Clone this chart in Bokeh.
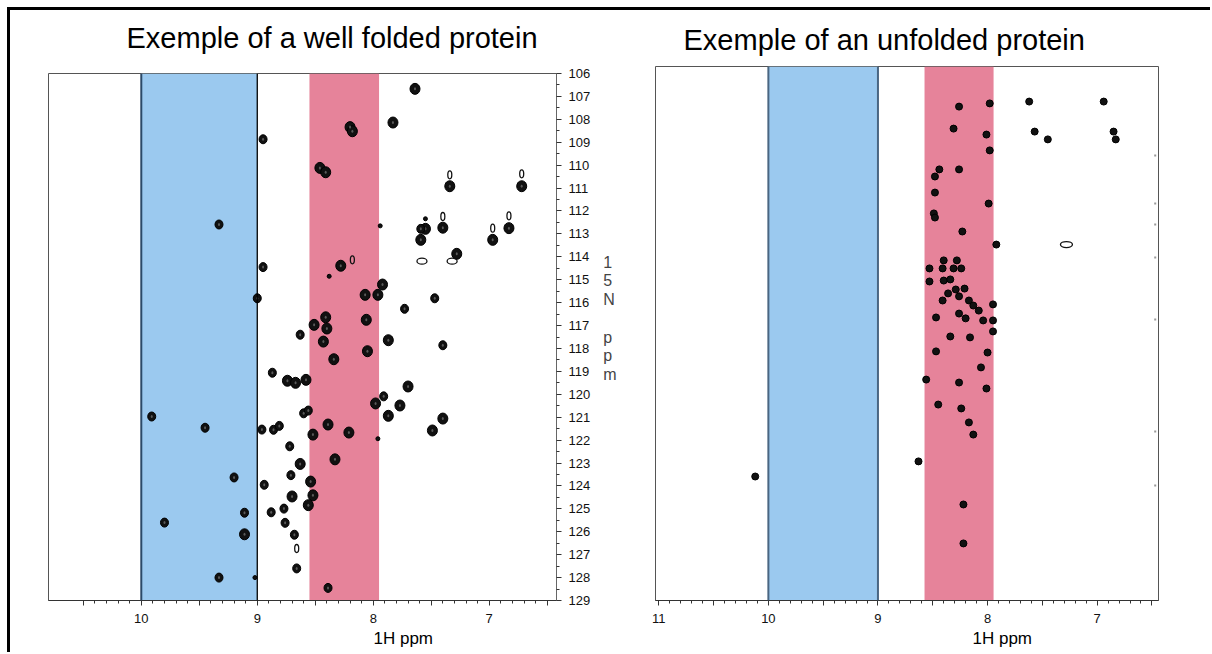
from bokeh.plotting import figure
from bokeh.models import Range1d, FixedTicker, Span, Title
from bokeh.layouts import row, column
from bokeh.embed import file_html
from bokeh.resources import INLINE

# ---------------- data ----------------
titles = ["Exemple of a well folded protein", "Exemple of an unfolded protein"]
x_label = "1H ppm"
y_label = "15N ppm"

folded_h_ticks = [10, 9, 8, 7]
unfolded_h_ticks = [11, 10, 9, 8, 7]
n_ticks = [106, 107, 108, 109, 110, 111, 112, 113, 114, 115, 116, 117,
           118, 119, 120, 121, 122, 123, 124, 125, 126, 127, 128, 129]

blue_band = [10.0, 9.0]
pink_band_folded = [8.55, 7.95]
pink_band_unfolded = [8.575, 7.945]

# well folded protein: 1H ppm, 15N ppm, contour level (3 strong, 2 medium,
# 1 weak open contour, 0 very weak, 4 broad weak)
folded_h = [7.64, 8.20, 8.18, 7.83, 8.95, 8.46, 8.41, 7.34, 7.34, 6.72,
            6.72, 9.33, 7.94, 7.55, 7.55, 7.59, 7.40, 7.40, 6.97, 6.97,
            6.83, 6.83, 7.59, 8.95, 8.28, 8.18, 8.38, 7.58, 7.32, 7.28,
            7.92, 7.96, 8.07, 7.47, 9.00, 7.73, 8.41, 8.51, 8.40, 8.06,
            8.63, 8.43, 7.87, 7.40, 8.05, 8.34, 8.87, 8.74, 8.67, 8.58,
            7.70, 7.91, 7.98, 7.77, 7.87, 7.40, 8.60, 8.56, 9.45, 8.96,
            8.86, 8.81, 8.39, 8.52, 8.21, 7.49, 7.96, 9.91, 8.72, 8.33,
            8.63, 9.20, 8.71, 8.94, 8.54, 8.52, 8.70, 8.56, 9.11, 8.88,
            8.77, 8.76, 9.11, 8.68, 8.66, 8.66, 9.33, 9.02, 8.39, 9.80]
folded_n = [106.67, 108.34, 108.52, 108.14, 108.87, 110.12, 110.31, 110.42, 110.92, 110.38,
            110.92, 112.59, 112.65, 112.34, 112.78, 112.78, 112.24, 112.73, 112.75, 113.26,
            112.21, 112.75, 113.26, 114.45, 114.39, 114.13, 114.85, 114.19, 114.19, 113.87,
            115.21, 115.66, 115.66, 115.81, 115.81, 116.27, 116.64, 116.97, 117.13, 116.75,
            117.40, 117.70, 117.64, 117.86, 118.12, 118.47, 119.06, 119.41, 119.50, 119.37,
            119.66, 120.09, 120.40, 120.49, 120.94, 121.06, 120.83, 120.71, 121.46, 121.54,
            121.55, 121.38, 121.32, 121.76, 121.67, 121.58, 121.94, 120.97, 122.27, 122.84,
            123.04, 123.63, 123.53, 123.95, 123.81, 124.41, 124.46, 124.84, 125.17, 125.15,
            124.99, 125.61, 126.11, 126.13, 126.73, 127.60, 128.00, 128.00, 128.45, 125.60]
folded_level = [3, 3, 3, 3, 2, 3, 3, 1, 3, 1,
                3, 2, 0, 0, 3, 2, 1, 3, 1, 3,
                1, 3, 3, 2, 3, 1, 0, 4, 4, 3,
                3, 3, 3, 2, 2, 2, 3, 3, 3, 3,
                2, 3, 3, 2, 3, 3, 2, 3, 3, 3,
                3, 2, 3, 3, 3, 3, 2, 2, 2, 2,
                2, 2, 3, 3, 3, 3, 0, 2, 2, 3,
                3, 2, 2, 2, 3, 3, 3, 3, 2, 2,
                2, 2, 3, 2, 1, 2, 2, 0, 2, 2]

# unfolded protein
unfolded_h = [7.62, 6.94, 7.98, 8.26, 7.57, 7.45, 6.85, 6.83, 8.31, 8.01,
              7.98, 8.44, 8.26, 8.48, 8.48, 7.99, 8.49, 8.48, 8.23, 7.92,
              7.28, 8.40, 8.28, 8.53, 8.41, 8.31, 8.24, 8.53, 8.40, 8.34,
              8.29, 8.21, 8.36, 8.26, 8.41, 8.17, 8.13, 7.95, 8.08, 8.47,
              8.26, 8.20, 8.04, 7.95, 7.95, 8.16, 8.34, 8.47, 8.00, 8.06,
              8.56, 8.26, 8.01, 8.45, 8.24, 8.17, 8.13, 8.63, 10.12, 8.22,
              8.22]
unfolded_n = [107.23, 107.23, 107.31, 107.45, 108.54, 108.88, 108.54, 108.88, 108.41, 108.67,
              109.36, 110.19, 110.19, 110.50, 111.20, 111.68, 112.11, 112.29, 112.90, 113.47,
              113.47, 114.16, 114.16, 114.51, 114.51, 114.51, 114.51, 115.08, 115.04, 114.99,
              115.43, 115.39, 115.60, 115.73, 115.91, 115.91, 116.13, 116.08, 116.35, 116.65,
              116.48, 116.69, 116.78, 116.78, 117.26, 117.52, 117.48, 118.13, 118.18, 118.83,
              119.36, 119.49, 119.75, 120.45, 120.62, 121.23, 121.76, 122.93, 123.59, 124.81,
              126.51]
unfolded_level = [2] * 20 + [4] + [2] * 40

edge_h = [6.47, 6.47, 6.47, 6.47, 6.47, 6.47, 6.47]
edge_n = [109.58, 111.68, 112.59, 114.03, 116.74, 121.63, 123.98]

# ---------------- style ----------------
FONT = "Liberation Sans"
BLUE = "#9BC9EF"
PINK = "#E6839A"

SHAPES_FOLDED = {
    3: dict(w=10, h=11, open=False, core="#5a5a5a"),
    2: dict(w=8, h=9, open=False, core="#5a5a5a"),
    1: dict(w=4, h=8, open=True),
    0: dict(w=4, h=4, open=False, core=None),
    4: dict(w=10, h=6, open=True),
}
SHAPES_UNFOLDED = {
    2: dict(w=7, h=7, open=False, core=None),
    4: dict(w=12, h=6, open=True),
}


def draw_peaks(p, hs, ns, levels, shapes):
    for lvl, st in shapes.items():
        xs = [h for h, l in zip(hs, levels) if l == lvl]
        ys = [n for n, l in zip(ns, levels) if l == lvl]
        if not xs:
            continue
        if st["open"]:
            p.ellipse(x=xs, y=ys, width=st["w"], height=st["h"],
                      width_units="screen", height_units="screen",
                      fill_color=None, line_color="#111111", line_width=1.3)
        else:
            p.ellipse(x=xs, y=ys, width=st["w"], height=st["h"],
                      width_units="screen", height_units="screen",
                      fill_color="#111111", line_color="#000000", line_width=1)
            if st.get("core"):
                p.ellipse(x=xs, y=ys, width=2, height=3,
                          width_units="screen", height_units="screen",
                          fill_color=st["core"], line_color=None)


def style_axis(ax):
    ax.major_tick_out = 5
    ax.major_tick_in = 0
    ax.minor_tick_out = 3
    ax.minor_tick_in = 0
    ax.axis_line_color = "#333333"
    ax.major_tick_line_color = "#333333"
    ax.minor_tick_line_color = "#333333"
    ax.major_label_text_font = FONT
    ax.major_label_text_font_size = "13px"
    ax.major_label_text_color = "#111111"


def x_ticker(ax, int_ticks, lo, hi):
    majors = []
    labels = {}
    v = lo
    while v <= hi + 1e-9:
        t = round(v, 1)
        majors.append(t)
        labels[t] = str(int(t)) if t in int_ticks else ""
        v += 0.5
    minors = []
    v = lo
    while v <= hi + 1e-9:
        minors.append(round(v, 1))
        v += 0.1
    ax.ticker = FixedTicker(ticks=majors, minor_ticks=minors)
    ax.major_label_overrides = labels
    ax.major_label_standoff = 8


def make_panel(xr, yr, fw, fh, mbl, mbr, mbt, mbb, right_axis):
    p = figure(x_range=Range1d(*xr), y_range=Range1d(*yr),
               frame_width=fw, frame_height=fh,
               min_border_left=mbl, min_border_right=mbr,
               min_border_top=mbt, min_border_bottom=mbb,
               toolbar_location=None, output_backend="svg",
               y_axis_location="right" if right_axis else None,
               background_fill_color="white", border_fill_color="white")
    p.xgrid.visible = False
    p.ygrid.visible = False
    p.outline_line_color = "#555555"
    p.outline_line_width = 1
    return p


def style_title(t, size):
    t.text_font = FONT
    t.text_font_size = size
    t.text_font_style = "normal"
    t.text_color = "#000000"


def add_xlabel(p, text, offset):
    t = Title(text=text, align="left", offset=offset, standoff=2)
    style_title(t, "17px")
    p.add_layout(t, "below")


# ---------------- left panel ----------------
p1 = make_panel((10.80, 6.42), (129, 106), 508, 527, 38, 74, 63, 52, True)
p1.quad(left=[blue_band[0]], right=[blue_band[1]], bottom=[129], top=[106],
        fill_color=BLUE, line_color=None)
p1.quad(left=[pink_band_folded[0]], right=[pink_band_folded[1]], bottom=[129], top=[106],
        fill_color=PINK, line_color=None)
p1.add_layout(Span(location=blue_band[0], dimension="height", line_color="#2c4a68", line_width=2))
p1.add_layout(Span(location=blue_band[1], dimension="height", line_color="#000000", line_width=1.3))
draw_peaks(p1, folded_h, folded_n, folded_level, SHAPES_FOLDED)

style_axis(p1.xaxis[0])
x_ticker(p1.xaxis[0], folded_h_ticks, 6.5, 10.5)
ya = p1.yaxis[0]
style_axis(ya)
ya.ticker = FixedTicker(ticks=n_ticks, minor_ticks=[t + 0.5 for t in n_ticks[:-1]])
ya.major_label_standoff = 7
ya.axis_line_color = "#666666"
ya.axis_label = "\n".join(c if c != " " else "\u00a0" for c in y_label) + "\n\u00a0\n\u00a0"
ya.axis_label_orientation = "horizontal"
ya.axis_label_text_font = FONT
ya.axis_label_text_font_size = "16px"
ya.axis_label_text_font_style = "normal"
ya.axis_label_text_line_height = 1.1
ya.axis_label_standoff = 10
ya.axis_label_text_align = "center"

# real title (outermost) plus a thin spacer next to the frame
p1.title.text = titles[0]
p1.title.align = "left"
p1.title.offset = 78
p1.title.standoff = 0
p1.title.vertical_align = "bottom"
style_title(p1.title, "29px")
spacer = Title(text="\u00a0", standoff=17)
style_title(spacer, "1px")
p1.add_layout(spacer, "above")
add_xlabel(p1, x_label, 325)

# ---------------- right panel ----------------
p2 = make_panel((11.03, 6.44), (129, 105.7), 503, 534, 25, 52, 56, 52, False)
p2.quad(left=[blue_band[0]], right=[blue_band[1]], bottom=[129], top=[105.7],
        fill_color=BLUE, line_color=None)
p2.quad(left=[pink_band_unfolded[0]], right=[pink_band_unfolded[1]], bottom=[129], top=[105.7],
        fill_color=PINK, line_color=None)
p2.add_layout(Span(location=blue_band[0], dimension="height", line_color="#4a6682", line_width=2))
p2.add_layout(Span(location=blue_band[1], dimension="height", line_color="#4a6682", line_width=2))
draw_peaks(p2, unfolded_h, unfolded_n, unfolded_level, SHAPES_UNFOLDED)
p2.rect(x=edge_h, y=edge_n, width=2, height=2, width_units="screen", height_units="screen",
        fill_color="#999999", line_color=None)

style_axis(p2.xaxis[0])
x_ticker(p2.xaxis[0], unfolded_h_ticks, 6.5, 11.0)

p2.title.text = titles[1]
p2.title.align = "left"
p2.title.offset = 28
p2.title.standoff = 21
style_title(p2.title, "29px")
add_xlabel(p2, x_label, 317)

layout = row(column(p1), column(p2),
             styles={"border-left": "3px solid #000000",
                     "border-top": "3px solid #000000",
                     "margin-left": "7px", "margin-top": "7px"})

open("out.html", "w").write(file_html(layout, INLINE))
